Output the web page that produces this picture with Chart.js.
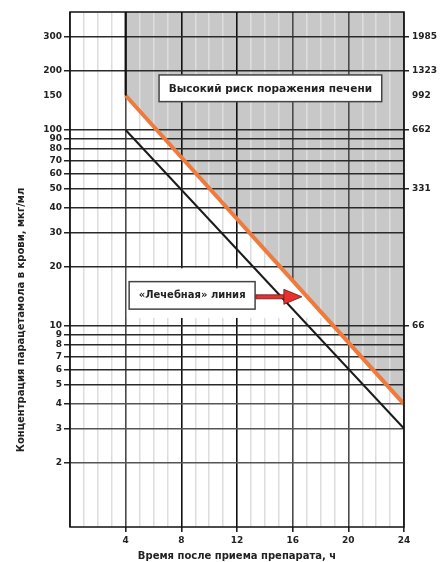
<!DOCTYPE html>
<html>
<head>
<meta charset="utf-8">
<script src="https://cdn.jsdelivr.net/npm/chart.js@4/dist/chart.umd.min.js"></script>
<style>
  html, body { margin: 0; padding: 0; background: #fff; }
  #wrap { width: 441px; height: 562px; }
</style>
</head>
<body>
<div id="wrap"><canvas id="c" width="441" height="562"></canvas></div>
<script>
// ---- data ----
const lineHours = [4, 24];
const treatmentLine = [150, 4];      // orange "лечебная" line, мкг/мл
const lowerLine = [100, 3];          // black line, мкг/мл
const boundaryHours = [4, 4];
const boundaryConc = [400, 150];     // thick vertical edge of the high-risk zone
const leftTickValues = [2, 3, 4, 5, 6, 7, 8, 9, 10, 20, 30, 40, 50, 60, 70, 80, 90, 100, 150, 200, 300];
const rightTickValues = [300, 200, 150, 100, 50, 10];
const rightTickLabels = ['1985', '1323', '992', '662', '331', '66'];
const xLabelHours = [4, 8, 12, 16, 20, 24];
const xTitle = 'Время после приема препарата, ч';
const yTitle = 'Концентрация парацетамола в крови, мкг/мл';
const highRiskLabel = 'Высокий риск поражения печени';
const treatmentLabel = '«Лечебная» линия';

const Y_MIN = 0.944, Y_MAX = 400;
const FONT = '"DejaVu Sans", Verdana, sans-serif';

const toXY = (xs, ys) => xs.map((x, i) => ({ x: x, y: ys[i] }));

const shadePlugin = {
  id: 'shade',
  beforeDraw(chart) {
    const { ctx, scales: { x, y }, chartArea: a } = chart;
    ctx.save();
    ctx.fillStyle = '#ffffff';
    ctx.fillRect(0, 0, chart.width, chart.height);
    ctx.fillStyle = '#c8c8c8';
    ctx.beginPath();
    ctx.moveTo(x.getPixelForValue(lineHours[0]), a.top);
    ctx.lineTo(x.getPixelForValue(lineHours[0]), y.getPixelForValue(treatmentLine[0]));
    ctx.lineTo(x.getPixelForValue(lineHours[1]), y.getPixelForValue(treatmentLine[1]));
    ctx.lineTo(x.getPixelForValue(lineHours[1]), a.top);
    ctx.closePath();
    ctx.fill();
    ctx.restore();
  },
  beforeDatasetsDraw(chart) {
    // white band (no vertical grid) behind the "лечебная" label, below the orange line
    const { ctx, scales: { x, y }, chartArea: a } = chart;
    ctx.save();
    ctx.beginPath();
    ctx.moveTo(x.getPixelForValue(lineHours[0]), y.getPixelForValue(treatmentLine[0]));
    ctx.lineTo(x.getPixelForValue(lineHours[1]), y.getPixelForValue(treatmentLine[1]));
    ctx.lineTo(x.getPixelForValue(lineHours[1]), a.bottom);
    ctx.lineTo(x.getPixelForValue(lineHours[0]), a.bottom);
    ctx.closePath();
    ctx.clip();
    const x0 = x.getPixelForValue(4) + 1.2;
    const y0 = y.getPixelForValue(20) + 1.2;
    const y1 = y.getPixelForValue(11);
    ctx.fillStyle = '#ffffff';
    ctx.fillRect(x0, y0, a.right - x0, y1 - y0);
    ctx.restore();
  },
  afterDraw(chart) {
    const { ctx, scales: { x, y }, chartArea: a } = chart;
    ctx.save();
    // frame
    ctx.strokeStyle = '#111';
    ctx.lineWidth = 1.5;
    ctx.strokeRect(a.left, a.top, a.right - a.left, a.bottom - a.top);

    // boxes
    const box = (h0, h1, c0, c1, text, fs) => {
      const L = x.getPixelForValue(h0), R = x.getPixelForValue(h1);
      const T = y.getPixelForValue(c1), B = y.getPixelForValue(c0);
      ctx.fillStyle = '#fff';
      ctx.fillRect(L, T, R - L, B - T);
      ctx.strokeStyle = '#444';
      ctx.lineWidth = 1.5;
      ctx.strokeRect(L, T, R - L, B - T);
      ctx.fillStyle = '#222';
      ctx.font = 'bold ' + fs + 'px ' + FONT;
      ctx.textAlign = 'center';
      ctx.textBaseline = 'middle';
      ctx.fillText(text, (L + R) / 2, (T + B) / 2 + 0.5);
      return { L, R, T, B };
    };
    box(6.4, 22.4, 139.6, 191, highRiskLabel, 10.5);
    const b2 = box(4.25, 13.3, 12.2, 16.85, treatmentLabel, 10);

    // arrow
    const tipX = x.getPixelForValue(16.66);
    const ay = y.getPixelForValue(14.1);
    const headLen = 18, half = 7.5, shaft = 2;
    ctx.fillStyle = '#e8302c';
    ctx.strokeStyle = '#5a1a1a';
    ctx.lineWidth = 0.8;
    ctx.beginPath();
    ctx.rect(b2.R + 0.8, ay - shaft, tipX - headLen - b2.R, shaft * 2);
    ctx.fill(); ctx.stroke();
    ctx.beginPath();
    ctx.moveTo(tipX, ay);
    ctx.lineTo(tipX - headLen, ay - half);
    ctx.lineTo(tipX - headLen, ay + half);
    ctx.closePath();
    ctx.fill(); ctx.stroke();

    // y-axis title
    ctx.translate(21, 320);
    ctx.rotate(-Math.PI / 2);
    ctx.fillStyle = '#222';
    ctx.font = 'bold 10px ' + FONT;
    ctx.textAlign = 'center';
    ctx.textBaseline = 'middle';
    ctx.fillText(yTitle, 0, 0);
    ctx.restore();
  }
};

new Chart(document.getElementById('c'), {
  type: 'line',
  data: {
    datasets: [
      { data: toXY(boundaryHours, boundaryConc), borderColor: '#111', borderWidth: 2.2, pointRadius: 0, fill: false },
      { data: toXY(lineHours, lowerLine), borderColor: '#1a1a1a', borderWidth: 2, pointRadius: 0, fill: false },
      { data: toXY(lineHours, treatmentLine), borderColor: '#ef7a3c', borderWidth: 4, pointRadius: 0, fill: false, borderCapStyle: 'butt' }
    ]
  },
  plugins: [shadePlugin],
  options: {
    responsive: false,
    animation: false,
    events: [],
    layout: { padding: { top: 12, left: 0, right: 0, bottom: 0 } },
    plugins: { legend: { display: false }, tooltip: { enabled: false } },
    scales: {
      x: {
        type: 'linear',
        min: 0, max: 24,
        afterFit: s => { s.height = 35; },
        afterBuildTicks: s => { s.ticks = Array.from({ length: 25 }, (_, i) => ({ value: i })); },
        border: { display: false },
        grid: {
          color: c => {
            const v = c.tick && c.tick.value;
            if (v % 4 === 0) return (v === 8 || v === 12) ? '#111' : '#4a4a4a';
            return '#dddddd';
          },
          lineWidth: c => (c.tick && c.tick.value % 4 === 0) ? 1.6 : 1.5,
          tickColor: c => (c.tick && xLabelHours.includes(c.tick.value)) ? '#222' : 'rgba(0,0,0,0)',
          tickLength: 5
        },
        ticks: {
          autoSkip: false, maxRotation: 0, padding: 3,
          color: '#222',
          font: { family: FONT, size: 9, weight: 'bold' },
          callback: v => xLabelHours.includes(v) ? String(v) : ''
        },
        title: {
          display: true, text: xTitle, color: '#222',
          font: { family: FONT, size: 10, weight: 'bold' },
          padding: { top: 0, bottom: 0 }
        }
      },
      y: {
        type: 'logarithmic',
        position: 'left',
        min: Y_MIN, max: Y_MAX,
        afterFit: s => { s.width = 70; },
        afterBuildTicks: s => { s.ticks = leftTickValues.map(v => ({ value: v })); },
        border: { display: false },
        grid: {
          color: c => {
            const v = c.tick && c.tick.value;
            if (v === 150) return 'rgba(0,0,0,0)';
            return v <= 4 ? '#555' : '#2a2a2a';
          },
          lineWidth: 1.5,
          tickColor: c => (c.tick && c.tick.value === 150) ? 'rgba(0,0,0,0)' : '#222',
          tickLength: 6
        },
        ticks: {
          padding: 2,
          color: '#222',
          font: { family: FONT, size: 9, weight: 'bold' },
          callback: v => String(v)
        }
      },
      y2: {
        type: 'logarithmic',
        position: 'right',
        min: Y_MIN, max: Y_MAX,
        afterFit: s => { s.width = 37; },
        afterBuildTicks: s => { s.ticks = rightTickValues.map(v => ({ value: v })); },
        border: { display: false },
        grid: {
          drawOnChartArea: false,
          tickColor: c => (c.tick && c.tick.value === 150) ? 'rgba(0,0,0,0)' : '#222',
          tickLength: 5,
          lineWidth: 1.5
        },
        ticks: {
          padding: 3,
          color: '#222',
          font: { family: FONT, size: 9, weight: 'bold' },
          callback: (v, i) => rightTickLabels[i]
        }
      }
    }
  }
});
</script>
</body>
</html>
